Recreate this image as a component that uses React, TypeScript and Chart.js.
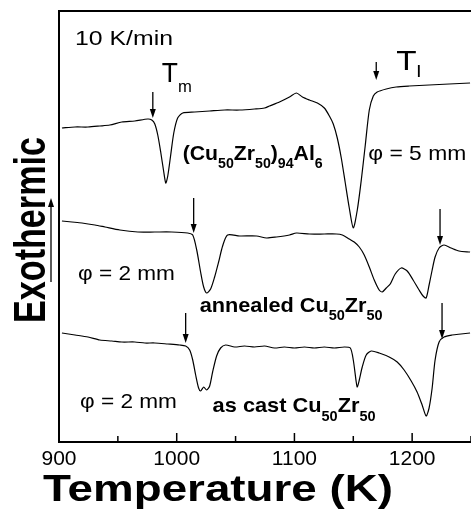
import React, { useEffect, useRef } from "react";
import { Chart, registerables } from "chart.js";

Chart.register(...registerables);

// ---- Data (temperature in K, heat flow in arbitrary units, exothermic up) ----
const topTemps = [902.5, 913.6, 924.6, 934.7, 943.2, 953.4, 964.4, 975.4, 978.8, 981.4, 983.9, 986.4, 989, 990.7, 992.4, 994.9, 997.5, 1000.8, 1005.1, 1015.3, 1028, 1040.7, 1053.4, 1066.1, 1074.6, 1078.8, 1087.3, 1095.8, 1101.7, 1106.8, 1112.7, 1119.5, 1125.4, 1129.7, 1133, 1136.4, 1139.8, 1143.2, 1146.6, 1150, 1153.4, 1156.8, 1160.2, 1163.6, 1167, 1170.3, 1178, 1186.4, 1197.5, 1214.4, 1231.4, 1249.2];
const topHeat = [314, 315, 315, 316, 317, 320, 321, 323, 322, 318, 307, 290, 270, 259, 266, 287, 309, 324, 329, 330, 331, 332, 332, 333, 334, 336, 340, 345, 349, 345, 342, 339, 334, 326, 318, 304, 284, 259, 234, 214, 232, 262, 297, 332, 346, 350, 353, 355, 356, 357, 358, 359];

const midTemps = [902.5, 911, 919.5, 930.5, 939, 951.7, 967, 981.4, 995.8, 1009.3, 1013.6, 1017, 1020.3, 1022.9, 1025.4, 1028.8, 1032.2, 1035.6, 1039, 1043.2, 1053.4, 1067.8, 1076.3, 1084.7, 1095.8, 1101.7, 1112.7, 1125.4, 1135.6, 1140.7, 1146.6, 1150.8, 1155.1, 1159.3, 1163.6, 1167.8, 1172, 1174.6, 1178, 1181.4, 1185.6, 1190.7, 1195.8, 1200.8, 1205.9, 1209.3, 1211.9, 1214.4, 1217, 1219.5, 1222.9, 1227.1, 1233.1, 1239.8, 1249.2];
const midHeat = [221, 220, 219, 217, 215, 212, 210, 210, 210, 209, 207, 192, 170, 155, 149, 153, 165, 180, 196, 207, 206, 206, 204, 205, 207, 209, 208, 208, 208, 207, 203, 200, 195, 187, 175, 162, 152, 150, 154, 158, 168, 174, 171, 162, 152, 146, 144, 157, 172, 185, 194, 197, 194, 191, 190];

const botTemps = [902.5, 913.6, 924.6, 934.7, 944.9, 953.4, 964.4, 972.9, 981.4, 992.4, 1002.5, 1007.6, 1011, 1013.6, 1016.1, 1018.6, 1020.3, 1022.9, 1025.4, 1028, 1030.5, 1033.9, 1037.3, 1041.5, 1049.2, 1057.6, 1066.1, 1074.6, 1083, 1091.5, 1100, 1108.5, 1116.9, 1125.4, 1133.9, 1142.4, 1147.5, 1150, 1152.5, 1153.4, 1155.1, 1157.6, 1161, 1165.3, 1172, 1180.5, 1187.3, 1193.2, 1199.2, 1204.2, 1208.5, 1211.9, 1214.4, 1217, 1219.5, 1222.9, 1227.1, 1233.9, 1241.5, 1249.2];
const botHeat = [109, 107, 105, 102, 101, 100, 100, 99, 99, 98, 97, 96, 92, 82, 67, 54, 51, 55, 52, 56, 70, 86, 94, 97, 95, 96, 95, 96, 94, 95, 94, 95, 94, 95, 94, 95, 94, 82, 60, 55, 62, 75, 87, 91, 89, 85, 80, 72, 61, 50, 37, 26, 34, 54, 82, 100, 105, 107, 108, 109];

const xTickValues = [900, 1000, 1100, 1200];
const xTitle = "Temperature (K)";
const yTitle = "Exothermic";

// arrows: [temperature, from (tail), to (tip)]
const arrowTemps = [979.7, 1169.5, 1014.4, 1223.7, 1007.6, 1225.4];
const arrowTails = [350, 380, 244, 233, 129, 139];
const arrowTips = [324, 362, 209, 197, 99, 103];

const FONT = '"Liberation Sans", Arial, Helvetica, sans-serif';

type Part = { t: string; sub?: boolean };
type Label = {
  parts: Part[];
  T: number;
  v: number;
  size: number;
  subSize: number;
  subDrop: number;
  weight: string;
  width: number;
};

const labels: Label[] = [
  { parts: [{ t: "10 K/min" }], T: 913.6, v: 397, size: 20, subSize: 14, subDrop: 0, weight: "normal", width: 98 },
  { parts: [{ t: "T" }, { t: "m", sub: true }], T: 987.3, v: 360, size: 27, subSize: 17, subDrop: 10, weight: "normal", width: 30 },
  { parts: [{ t: "T" }, { t: "l", sub: true }], T: 1186.4, v: 372, size: 27, subSize: 17, subDrop: 7, weight: "normal", width: 25 },
  {
    parts: [{ t: "(Cu" }, { t: "50", sub: true }, { t: "Zr" }, { t: "50", sub: true }, { t: ")" }, { t: "94", sub: true }, { t: "Al" }, { t: "6", sub: true }],
    T: 1005.1, v: 282, size: 21, subSize: 14, subDrop: 8, weight: "bold", width: 140,
  },
  { parts: [{ t: "\u03c6 = 5 mm" }], T: 1162.7, v: 282, size: 21, subSize: 14, subDrop: 0, weight: "normal", width: 98 },
  { parts: [{ t: "\u03c6 = 2 mm" }], T: 916.1, v: 162, size: 21, subSize: 14, subDrop: 0, weight: "normal", width: 97 },
  {
    parts: [{ t: "annealed Cu" }, { t: "50", sub: true }, { t: "Zr" }, { t: "50", sub: true }],
    T: 1019.5, v: 130, size: 21, subSize: 14, subDrop: 8, weight: "bold", width: 183,
  },
  { parts: [{ t: "\u03c6 = 2 mm" }], T: 917.8, v: 34, size: 21, subSize: 14, subDrop: 0, weight: "normal", width: 97 },
  {
    parts: [{ t: "as cast Cu" }, { t: "50", sub: true }, { t: "Zr" }, { t: "50", sub: true }],
    T: 1030.5, v: 30, size: 21, subSize: 14, subDrop: 9, weight: "bold", width: 163,
  },
];

function drawRich(ctx: CanvasRenderingContext2D, l: Label, x: number, y: number) {
  ctx.save();
  const mainFont = `${l.weight} ${l.size}px ${FONT}`;
  const subFont = `${l.weight} ${l.subSize}px ${FONT}`;
  let total = 0;
  const widths: number[] = [];
  for (const p of l.parts) {
    ctx.font = p.sub ? subFont : mainFont;
    const w = ctx.measureText(p.t).width;
    widths.push(w);
    total += w;
  }
  const sx = l.width / total;
  ctx.translate(x, y);
  ctx.scale(sx, 1);
  ctx.fillStyle = "#000";
  ctx.textAlign = "left";
  ctx.textBaseline = "alphabetic";
  let cx = 0;
  l.parts.forEach((p, i) => {
    ctx.font = p.sub ? subFont : mainFont;
    ctx.fillText(p.t, cx, p.sub ? l.subDrop : 0);
    cx += widths[i];
  });
  ctx.restore();
}

function drawArrow(ctx: CanvasRenderingContext2D, x: number, y0: number, y1: number) {
  const head = 9;
  const dir = y1 > y0 ? 1 : -1;
  ctx.save();
  ctx.strokeStyle = "#000";
  ctx.fillStyle = "#000";
  ctx.lineWidth = 1.3;
  ctx.beginPath();
  ctx.moveTo(x, y0);
  ctx.lineTo(x, y1 - dir * head);
  ctx.stroke();
  ctx.beginPath();
  ctx.moveTo(x, y1);
  ctx.lineTo(x - 3, y1 - dir * head);
  ctx.lineTo(x + 3, y1 - dir * head);
  ctx.closePath();
  ctx.fill();
  ctx.restore();
}

const decorPlugin = {
  id: "decor",
  afterDraw(chart: any) {
    const ctx: CanvasRenderingContext2D = chart.ctx;
    const { left, right, top, bottom } = chart.chartArea;
    const xs = chart.scales.x;
    const ys = chart.scales.y;

    // frame
    ctx.save();
    ctx.strokeStyle = "#000";
    ctx.lineWidth = 2;
    ctx.beginPath();
    ctx.moveTo(right + 2, top);
    ctx.lineTo(left, top);
    ctx.lineTo(left, bottom);
    ctx.lineTo(right + 2, bottom);
    ctx.stroke();

    // inward ticks
    ctx.lineWidth = 1.5;
    for (const t of xs.ticks) {
      const px = xs.getPixelForValue(t.value);
      const len = t.value % 100 === 0 ? 9 : 6;
      ctx.beginPath();
      ctx.moveTo(px, bottom);
      ctx.lineTo(px, bottom - len);
      ctx.stroke();
    }
    ctx.restore();

    // arrows
    arrowTemps.forEach((T, i) => {
      drawArrow(ctx, xs.getPixelForValue(T), ys.getPixelForValue(arrowTails[i]), ys.getPixelForValue(arrowTips[i]));
    });

    // labels
    for (const l of labels) {
      drawRich(ctx, l, xs.getPixelForValue(l.T), ys.getPixelForValue(l.v));
    }

    // x title
    ctx.save();
    ctx.font = `bold 36px ${FONT}`;
    const tw = ctx.measureText(xTitle).width;
    ctx.translate(left - 16, bottom + 59);
    ctx.scale(350 / tw, 1);
    ctx.fillStyle = "#000";
    ctx.textBaseline = "alphabetic";
    ctx.textAlign = "left";
    ctx.fillText(xTitle, 0, 0);
    ctx.restore();

    // y title (rotated)
    ctx.save();
    ctx.font = `bold 44px ${FONT}`;
    const yw = ctx.measureText(yTitle).width;
    ctx.translate(left - 14, top + 219);
    ctx.rotate(-Math.PI / 2);
    ctx.scale(186 / yw, 1);
    ctx.fillStyle = "#000";
    ctx.textAlign = "center";
    ctx.textBaseline = "alphabetic";
    ctx.fillText(yTitle, 0, 0);
    ctx.restore();

    // exothermic arrow
    drawArrow(ctx, left - 8, top + 271, top + 187);
  },
};

export default function App() {
  const ref = useRef<HTMLCanvasElement>(null);
  useEffect(() => {
    const line = (xs: number[], ys: number[]) => ({
      data: xs.map((x, i) => ({ x, y: ys[i] })),
      borderColor: "#000",
      borderWidth: 1.2,
      pointRadius: 0,
      tension: 0.25,
      fill: false,
    });
    const chart = new Chart(ref.current!, {
      type: "line",
      data: {
        datasets: [line(topTemps, topHeat), line(midTemps, midHeat), line(botTemps, botHeat)],
      },
      options: {
        animation: false,
        responsive: false,
        devicePixelRatio: 1,
        layout: { autoPadding: false, padding: { left: 59, top: 11, right: 0, bottom: 0 } },
        plugins: { legend: { display: false }, tooltip: { enabled: false } },
        scales: {
          x: {
            type: "linear",
            min: 900,
            max: 1250,
            grid: { display: false, drawTicks: false },
            border: { display: false },
            afterFit: (s: any) => {
              s.height = 72;
              s.paddingLeft = 0;
              s.paddingRight = 0;
            },
            afterBuildTicks: (s: any) => {
              const arr = [];
              for (let v = 900; v <= 1250; v += 50) arr.push({ value: v });
              s.ticks = arr;
            },
            ticks: {
              autoSkip: false,
              maxRotation: 0,
              padding: 5,
              color: "#000",
              font: { family: FONT, size: 21 },
              callback: (v: any) => (xTickValues.includes(Number(v)) ? String(v) : ""),
            },
          },
          y: { type: "linear", min: 0, max: 431, display: false },
        },
      },
      plugins: [decorPlugin],
    } as any);
    return () => chart.destroy();
  }, []);
  return (
    <div style={{ position: "absolute", left: 0, top: 0, width: 471, height: 514, background: "#fff", overflow: "hidden" }}>
      <canvas ref={ref} width={471} height={514} style={{ display: "block", width: 471, height: 514 }} />
    </div>
  );
}
